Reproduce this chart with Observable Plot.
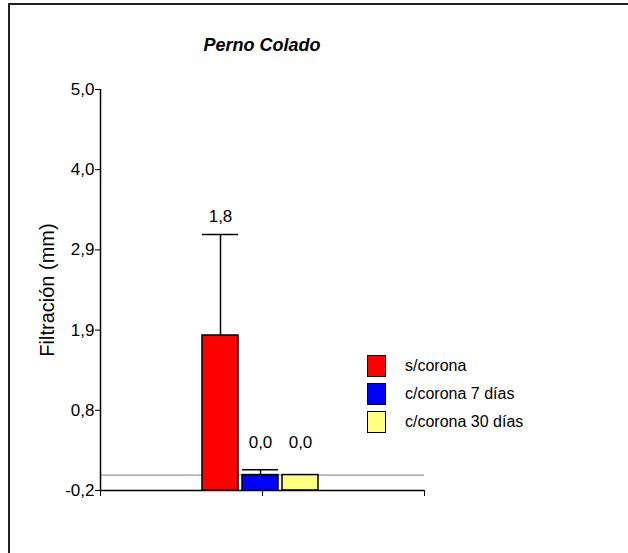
<!DOCTYPE html>
<html>
<head>
<meta charset="utf-8">
<script src="https://cdn.jsdelivr.net/npm/d3@7"></script>
<script src="https://cdn.jsdelivr.net/npm/@observablehq/plot@0.6"></script>
<style>
  html, body { margin: 0; padding: 0; background: #fff; overflow: hidden; }
  body { width: 628px; height: 553px; font-family: "Liberation Sans", Arial, sans-serif; color: #000; }
  #wrap { position: relative; width: 628px; height: 553px; }
  #frame { position: absolute; left: 8px; top: 3px; width: 700px; height: 700px;
           border-top: 2px solid #222; border-left: 2px solid #222; box-sizing: border-box; }
  #chart { position: absolute; left: 0; top: 0; }
  #title { position: absolute; left: 162px; width: 200px; top: 36px; text-align: center;
           font-size: 18px; line-height: 18px; font-weight: bold; font-style: italic; }
  .leg { position: absolute; left: 367px; height: 22px; display: flex; align-items: center; font-size: 16px; }
  .sw { width: 19px; height: 22px; box-sizing: border-box; border: 1.5px solid #000; margin-right: 19px; }
</style>
</head>
<body>
<div id="wrap">
  <div id="frame"></div>
  <div id="chart"></div>
  <div id="title">Perno Colado</div>
  <div id="legend"></div>
</div>
<script>
// ---- data ----
const categories = ["s/corona", "c/corona 7 días", "c/corona 30 días"];
const values = [1.81, 0.0, 0.0];
const errors = [1.31, 0.07, 0.0];
const colors = ["#ff0000", "#0000ff", "#ffff80"];
const yTicks = [-0.2, 0.84, 1.88, 2.92, 3.96, 5.0];
const yDomain = [-0.2, 5.0];
const xDomain = [-4, 4.1];

const fmt = v => v.toFixed(1).replace(".", ",");
const data = categories.map((c, i) => ({
  category: c, pos: i - 1, value: values[i], err: errors[i], color: colors[i]
}));
const xTicks = [xDomain[0], (xDomain[0] + xDomain[1]) / 2, xDomain[1]];
const half = 0.45;

const chart = Plot.plot({
  width: 628,
  height: 553,
  marginLeft: 100,
  marginRight: 204,
  marginTop: 89,
  marginBottom: 63,
  x: { domain: xDomain, axis: null },
  y: { domain: yDomain, axis: null },
  style: { fontFamily: "'Liberation Sans', Arial, sans-serif", fontSize: "17px", background: "transparent", color: "#000" },
  marks: [
    // zero reference line
    Plot.ruleY([0], { x1: () => xDomain[0], x2: () => xDomain[1], stroke: "#808080", strokeWidth: 1 }),
    // bars
    Plot.rectY(data, {
      x1: d => d.pos - half, x2: d => d.pos + half,
      y1: () => yDomain[0], y2: "value",
      fill: d => d.color, stroke: "#000", strokeWidth: 1.5
    }),
    // error bars (upper)
    Plot.ruleX(data.filter(d => d.err > 0), { x: "pos", y1: "value", y2: d => d.value + d.err, stroke: "#000", strokeWidth: 1.5 }),
    Plot.ruleY(data.filter(d => d.err > 0), { y: d => d.value + d.err, x1: d => d.pos - half, x2: d => d.pos + half, stroke: "#000", strokeWidth: 1.5 }),
    // value labels
    Plot.text(data, {
      x: "pos", y: d => Math.max(d.value + d.err, 0.2),
      text: d => fmt(d.value), dy: -12, lineAnchor: "bottom", textAnchor: "middle",
      fontSize: 17, fill: "#000"
    }),
    // y axis
    Plot.ruleX([xDomain[0]], { y1: () => yDomain[0], y2: () => yDomain[1], stroke: "#000", strokeWidth: 1.5 }),
    Plot.axisY({ ticks: yTicks, tickFormat: fmt, tickSize: 5, tickPadding: 1, label: null, fontSize: 17, stroke: "#000", fill: "#000" }),
    // x axis
    Plot.ruleY([yDomain[0]], { x1: () => xDomain[0], x2: () => xDomain[1], stroke: "#000", strokeWidth: 1.5 }),
    Plot.axisX({ ticks: xTicks, tickFormat: () => "", tickSize: 6, label: null, stroke: "#000" }),
    // y title
    Plot.text(["Filtración (mm)"], {
      frameAnchor: "left", dx: -53, rotate: -90, text: d => d,
      textAnchor: "middle", lineAnchor: "middle", fontSize: 20, fill: "#000"
    })
  ]
});
document.getElementById("chart").appendChild(chart);

// legend
const legend = document.getElementById("legend");
categories.forEach((c, i) => {
  const row = document.createElement("div");
  row.className = "leg";
  row.style.top = (355 + i * 28) + "px";
  const sw = document.createElement("div");
  sw.className = "sw";
  sw.style.background = colors[i];
  const tx = document.createElement("span");
  tx.textContent = c;
  row.appendChild(sw);
  row.appendChild(tx);
  legend.appendChild(row);
});
</script>
</body>
</html>
